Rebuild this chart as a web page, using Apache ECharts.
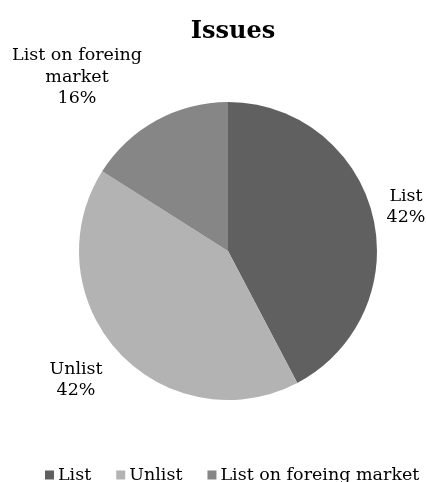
<!DOCTYPE html>
<html>
<head>
<meta charset="utf-8">
<script src="https://cdn.jsdelivr.net/npm/echarts@6/dist/echarts.min.js"></script>
<style>
  html, body { margin: 0; padding: 0; background: #fff; }
  #chart { width: 426px; height: 482px; }
</style>
</head>
<body>
<div id="chart"></div>
<script>
// chart data
const categories = ['List', 'Unlist', 'List on foreing market'];
const shares = [42.3, 41.7, 16.0];
const labelNames = ['List', 'Unlist', 'List on foreing\nmarket'];
const colors = ['#606060', '#b3b3b3', '#868686'];

// where Excel dropped each data label (label centres, px)
const labelSpots = [[406, 207], [76, 380], [77, 77]];

const FONT = 'DejaVu Serif';

const chart = echarts.init(document.getElementById('chart'));

const option = {
  animation: false,
  color: colors,
  title: {
    text: 'Issues',
    left: 228,
    top: 15,
    textAlign: 'center',
    textStyle: { fontFamily: FONT, fontWeight: 'bold', fontSize: 24, color: '#000' }
  },
  legend: {
    bottom: -2,
    left: 45,
    width: 420,
    padding: 0,
    icon: 'rect',
    itemWidth: 9,
    itemHeight: 9,
    itemGap: 25,
    textStyle: { fontFamily: FONT, fontSize: 17.5, color: '#000', padding: [0, 0, 0, -1] },
    data: categories
  },
  series: [{
    type: 'pie',
    center: [228, 251],
    radius: 149,
    startAngle: 90,
    clockwise: true,
    data: categories.map((name, i) => ({ name: name, value: shares[i] })),
    label: {
      show: true,
      position: 'outside',
      overflow: 'none',
      fontFamily: FONT,
      fontSize: 17.5,
      lineHeight: 21.5,
      color: '#000',
      align: 'center',
      formatter: p => labelNames[p.dataIndex] + '\n' + Math.round(p.percent) + '%'
    },
    labelLine: { show: false },
    labelLayout: p => ({
      x: labelSpots[p.dataIndex][0],
      y: labelSpots[p.dataIndex][1],
      align: 'center',
      verticalAlign: 'middle',
      hideOverlap: false
    }),
    emphasis: { disabled: true }
  }]
};

chart.setOption(option);
</script>
</body>
</html>
